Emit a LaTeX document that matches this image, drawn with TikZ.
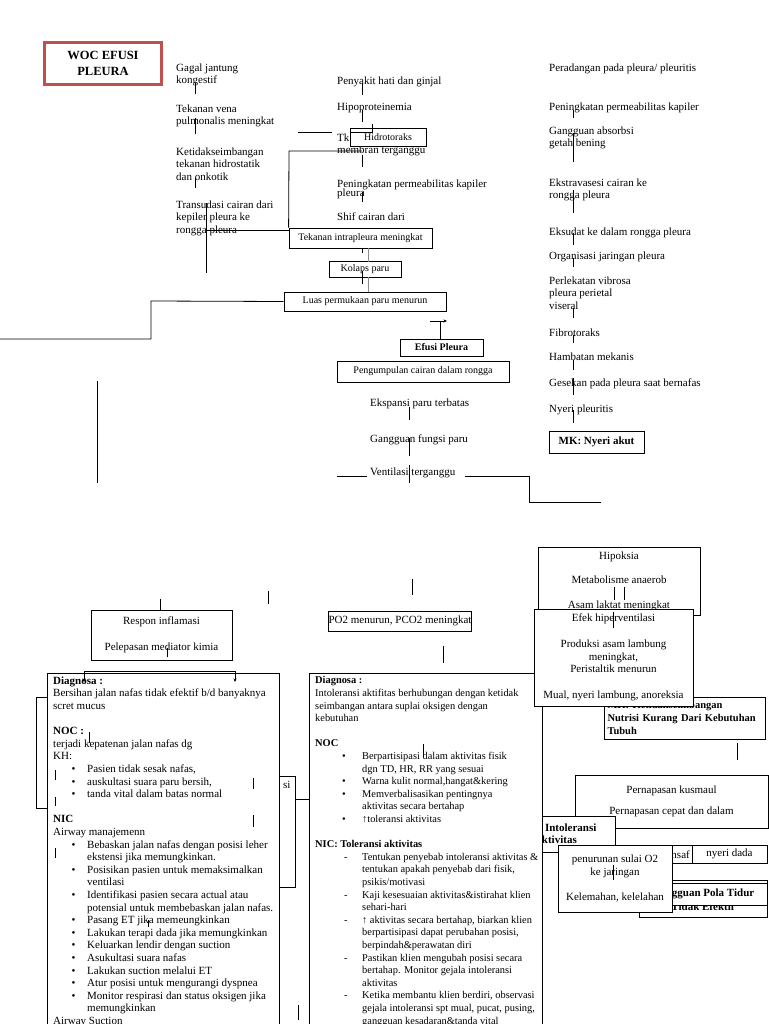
\documentclass[tikz,border=0pt]{standalone}
\usepackage{fontspec}
\setmainfont{Liberation Serif}
\usetikzlibrary{arrows.meta}
\definecolor{wocred}{RGB}{192,80,77}
\newcommand{\bulA}{\hspace*{18.5pt}\makebox[15.5pt][l]{\textbullet}}
\newcommand{\contA}{\hspace*{34pt}}
\newcommand{\bulB}{\hspace*{27pt}\makebox[20pt][l]{\textbullet}}
\newcommand{\dashB}{\hspace*{29pt}\makebox[18pt][l]{-}}
\newcommand{\contB}{\hspace*{47pt}}

\begin{document}
\begin{tikzpicture}[x=1pt,y=-1pt,line cap=butt,
  lbl/.style={anchor=north west,yshift=7.5pt,inner sep=0pt,align=left,font=\fontsize{11}{12.6}\selectfont},
  box/.style={draw,fill=white,inner sep=0pt,line width=0.8pt,align=center,font=\fontsize{11}{12.6}\selectfont},
  sbox/.style={box,font=\fontsize{10}{12}\selectfont},
  tick/.style={line width=0.8pt},
  faint/.style={line width=0.8pt,black!45},
  tip/.style={-{Stealth[length=3.5pt,width=3pt]}}]
\useasboundingbox (0,0) rectangle (768,1024);
% judul
\node[draw=wocred,line width=2.6pt,minimum width=117.4pt,minimum height=42.4pt,inner sep=0pt,align=center,font=\fontsize{12.5}{15.5}\selectfont\bfseries] (judul) at (103,63.5) {WOC EFUSI\\PLEURA};
% kolom kiri
\node[lbl] (gagal) at (176,71) {Gagal jantung\\kongestif};
\node[lbl] (vena) at (176,112) {Tekanan vena\\pulmonalis meningkat};
\node[lbl] (hidrost) at (176,155) {Ketidakseimbangan\\tekanan hidrostatik\\dan onkotik};
\node[lbl] (transud) at (176,208) {Transudasi cairan dari\\kepiler pleura ke\\rongga pleura};
% kolom tengah
\node[lbl] (hati) at (337,84) {Penyakit hati dan ginjal};
\node[lbl] (hipopro) at (337,111) {Hipoproteinemia};
\node[lbl] (membran) at (337,141) {Tk\\membran terganggu};
\node[lbl] (permea) at (337,187) {Peningkatan permeabilitas kapiler\\[-3.6pt]pleura};
\node[lbl] (shif) at (337,220) {Shif cairan dari};
\node[sbox,minimum width=76pt,minimum height=18pt] (hidro) at (388,137) {Hidrotoraks};
\node[sbox,minimum width=143pt,minimum height=20pt] (intra) at (360.5,238) {Tekanan intrapleura meningkat};
\node[sbox,minimum width=72pt,minimum height=16pt] (kolaps) at (365,269) {Kolaps paru};
\node[sbox,minimum width=162pt,minimum height=19pt] (luas) at (365,301.5) {Luas permukaan paru menurun};
\node[sbox,minimum width=83pt,minimum height=17pt,font=\fontsize{10}{12}\selectfont\bfseries] (efusi) at (441.5,347.5) {Efusi Pleura};
\node[sbox,minimum width=172pt,minimum height=21pt] (kumpul) at (423,371.5) {Pengumpulan cairan dalam rongga};
\node[lbl] (ekspansi) at (370,406) {Ekspansi paru terbatas};
\node[lbl] (fungsi) at (370,442) {Gangguan fungsi paru};
\node[lbl] (ventil) at (370,475) {Ventilasi terganggu};
% kolom kanan
\node[lbl] (radang) at (549,71) {Peradangan pada pleura/ pleuritis};
\node[lbl] (kapiler) at (549,110) {Peningkatan permeabilitas kapiler};
\node[lbl] (absorb) at (549,134) {Gangguan absorbsi\\getah bening};
\node[lbl] (ekstra) at (549,186) {Ekstravasesi cairan ke\\rongga pleura};
\node[lbl] (eksudat) at (549,235) {Eksudat ke dalam rongga pleura};
\node[lbl] (organ) at (549,259) {Organisasi jaringan pleura};
\node[lbl] (lekat) at (549,284) {Perlekatan vibrosa\\pleura perietal\\viseral};
\node[lbl] (fibro) at (549,336) {Fibrotoraks};
\node[lbl] (hambat) at (549,360) {Hambatan mekanis};
\node[lbl] (gesek) at (549,386) {Gesekan pada pleura saat bernafas};
\node[lbl] (nyeri) at (549,412) {Nyeri pleuritis};
\node[box,minimum width=95pt,minimum height=22pt,font=\fontsize{11}{12.6}\selectfont\bfseries] (mknyeri) at (596.5,442) {MK: Nyeri akut};
% garis atas
\draw[tick] (195,83) -- (195,94);
\draw[tick] (195,118) -- (195,134);
\draw[tick] (195,178) -- (195,188);
\draw[tick] (206,203) -- (206,273);
\draw[tick] (206,230) -- (289,230);
\draw[tick] (362,151) -- (289,151) -- (intra.north west);
\draw[tick] (298,132) -- (332,132);
\draw[tick] (362,83) -- (362,95);
\draw[tick] (362,110) -- (362,122);
\draw[tick] (351,132) -- (372,132) -- (372,124);
\draw[tick] (362,155) -- (362,167);
\draw[tick] (362,192) -- (362,202);
\draw[tick] (362,248) -- (362,253);
\draw[faint] (368,248) -- (368,262);
\draw[tick] (362,271) -- (362,284);
\draw[faint] (368,277) -- (368,292);
\draw[tick] (0,339) -- (151,339) -- (151,301) -- (luas.west);
\draw[tick,tip] (430,321) -- (447,321);
\draw[tick] (440,321) -- (efusi.north -| 440,0);
\draw[tick] (97,381) -- (97,483);
\draw[tick] (409,407) -- (409,420);
\draw[tick] (409,438) -- (409,456);
\draw[tick] (409,465) -- (409,483);
\draw[tick] (337,476) -- (367,476);
\draw[tick] (465,476) -- (529,476) -- (529,502) -- (601,502);
\foreach \ya/\yb in {110/118,133/162,190/213,233/245,258/267,308/318,335/343,360/370,378/395,410/423}
  \draw[tick] (573,\ya) -- (573,\yb);
% tengah
\draw[tick] (160,599) -- (160,610);
\draw[tick] (268,591) -- (268,604);
\draw[tick] (412,579) -- (412,595);
\draw[tick] (443,646) -- (443,663);
\node[box,minimum width=141pt,minimum height=50pt] (respon) at (161.5,635) {Respon inflamasi\\[13.4pt]Pelepasan mediator kimia};
\draw[tick] (167,648) -- (167,657);
\node[box,minimum width=132pt,minimum height=20pt] (po2) at (400,621) {PO2 menurun, PCO2 meningkat};
\node[box,minimum width=161pt,minimum height=42pt,inner xsep=3.5pt,text width=154pt,align=left,font=\fontsize{10.5}{12.6}\selectfont\bfseries] (nutrisi) at (684.5,718) {MK: Ketidakseimbangan\\Nutrisi Kurang Dari Kebutuhan\\Tubuh};
\node[box,minimum width=162pt,minimum height=68pt] (hipoksia) at (619,581) {Hipoksia\\[11.9pt]Metabolisme anaerob\\[11.9pt]Asam laktat meningkat};
\draw[tick] (614,587) -- (614,600);
\draw[tick] (624,587) -- (624,600);
\draw[tick] (737,743) -- (737,760);
\node[box,minimum width=193pt,minimum height=53pt] (napas) at (671.5,801.5) {Pernapasan kusmaul\\[8.4pt]Pernapasan cepat dan dalam};
\node[box,minimum width=79pt,minimum height=36pt,inner xsep=2pt,text width=75pt,align=left,font=\fontsize{11}{12}\selectfont\bfseries] (intol) at (575.5,834) {\hspace*{7pt}Intoleransi\\\hspace*{-4pt}Aktivitas};
% diagnosa kiri
\draw[tick] (100,697) -- (36,697) -- (36,808) -- (100,808);
\node[box,minimum width=95pt,minimum height=111pt] (sibox) at (247.5,831.5) {};
\node[lbl] (sitxt) at (283,789) {si};
\draw[tick] (sibox.east |- 0,799) -- (309,799);
\node[box,minimum width=232pt,minimum height=367pt] (diagA) at (163,856.5) {};
\node[lbl] (diagAtxt) at (53,684) {\textbf{Diagnosa :}\\
Bersihan jalan nafas tidak efektif b/d banyaknya\\
scret mucus\\[12.6pt]
\textbf{NOC :}\\
terjadi kepatenan jalan nafas dg\\
KH:\\
\bulA Pasien tidak sesak nafas,\\
\bulA auskultasi suara paru bersih,\\
\bulA tanda vital dalam batas normal\\[12.6pt]
\textbf{NIC}\\
Airway manajemenn\\
\bulA Bebaskan jalan nafas dengan posisi leher\\
\contA ekstensi jika memungkinkan.\\
\bulA Posisikan pasien untuk memaksimalkan\\
\contA ventilasi\\
\bulA Identifikasi pasien secara actual atau\\
\contA potensial untuk membebaskan jalan nafas.\\
\bulA Pasang ET jika memeungkinkan\\
\bulA Lakukan terapi dada jika memungkinkan\\
\bulA Keluarkan lendir dengan suction\\
\bulA Asukultasi suara nafas\\
\bulA Lakukan suction melalui ET\\
\bulA Atur posisi untuk mengurangi dyspnea\\
\bulA Monitor respirasi dan status oksigen jika\\
\contA memungkinkan\\
Airway Suction};
\draw[tick,tip] (160,671) -- (84,671) -- (84,682);
\draw[tick,tip] (160,671) -- (235,671) -- (235,682);
\draw[tick] (55,770) -- (55,780);
\draw[tick] (55,797) -- (55,806);
\draw[tick] (55,848) -- (55,858);
\draw[tick] (253,778) -- (253,789);
\draw[tick] (253,815) -- (253,827);
\draw[tick] (89,732) -- (89,743);
\draw[tick] (148,920) -- (148,927);
\draw[tick] (298,1005) -- (298,1020);
% diagnosa kanan
\node[box,minimum width=233pt,minimum height=367pt] (diagB) at (425.5,856.5) {};
\node[lbl,font=\fontsize{10.4}{12.6}\selectfont] (diagBtxt) at (315,684) {\textbf{Diagnosa :}\\
Intoleransi aktifitas berhubungan dengan ketidak\\
seimbangan antara suplai oksigen dengan\\
kebutuhan\\[12.6pt]
\textbf{NOC}\\
\bulB Berpartisipasi dalam aktivitas fisik\\
\contB dgn TD, HR, RR yang sesuai\\
\bulB Warna kulit normal,hangat\&kering\\
\bulB Memverbalisasikan pentingnya\\
\contB aktivitas secara bertahap\\
\bulB ↑toleransi aktivitas\\[12.6pt]
\textbf{NIC: Toleransi aktivitas}\\
\dashB Tentukan penyebab intoleransi aktivitas \&\\
\contB tentukan apakah penyebab dari fisik,\\
\contB psikis/motivasi\\
\dashB Kaji kesesuaian aktivitas\&istirahat klien\\
\contB sehari-hari\\
\dashB ↑ aktivitas secara bertahap, biarkan klien\\
\contB berpartisipasi dapat perubahan posisi,\\
\contB berpindah\&perawatan diri\\
\dashB Pastikan klien mengubah posisi secara\\
\contB bertahap. Monitor gejala intoleransi\\
\contB aktivitas\\
\dashB Ketika membantu klien berdiri, observasi\\
\contB gejala intoleransi spt mual, pucat, pusing,\\
\contB gangguan kesadaran\&tanda vital};
\draw[tick] (423,744) -- (423,757);
\node[box,minimum width=159pt,minimum height=97pt] (efek) at (613.5,657.5) {Efek hiperventilasi\\[13.4pt]Produksi asam lambung\\meningkat,\\Peristaltik menurun\\[13.4pt]Mual, nyeri lambung, anoreksia};
\draw[tick] (613,612) -- (613,628);
% kotak kanan bawah
\node[box,minimum width=92pt,minimum height=18pt] (onsafbox) at (646,854) {};
\node[anchor=base east,inner sep=0pt,font=\fontsize{11}{12.6}\selectfont] (onsaf) at (690,858) {onsaf};
\node[box,minimum width=75pt,minimum height=18pt] (dada) at (729.5,854) {nyeri dada};
\node[box,minimum width=128pt,minimum height=37pt] (tidak) at (703,898.5) {};
\node[anchor=base,inner sep=0pt,font=\fontsize{11}{12.6}\selectfont\bfseries] (tidaktxt) at (703,910) {Tidak Efektif};
\node[box,minimum width=128pt,minimum height=22pt,font=\fontsize{11}{12.6}\selectfont\bfseries] (polatidur) at (703,894) {Gangguan Pola Tidur};
\node[box,minimum width=114pt,minimum height=67pt] (turun) at (615,878.5) {penurunan sulai O2\\ke jaringan\\[12.4pt]Kelemahan, kelelahan};
\draw[tick] (613,865) -- (613,880);
\end{tikzpicture}
\end{document}
